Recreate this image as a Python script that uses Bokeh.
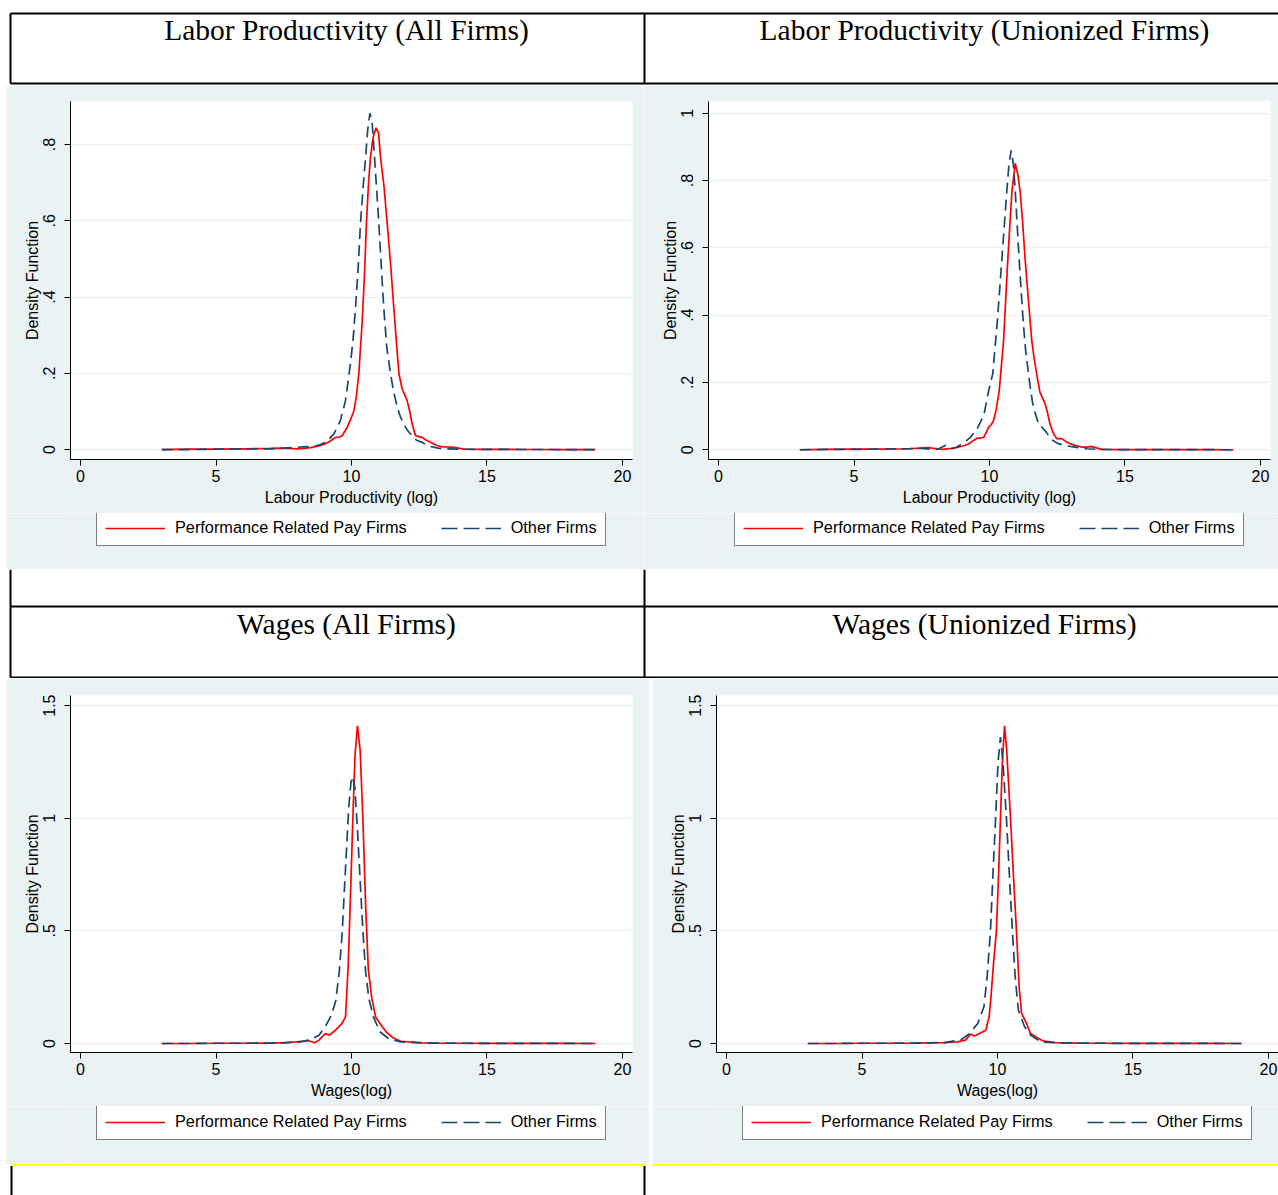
from bokeh.plotting import figure
from bokeh.models import (Range1d, FixedTicker, Legend, LegendItem, Spacer)
from bokeh.layouts import column, row
from bokeh.core.properties import value
from bokeh.embed import file_html
from bokeh.resources import INLINE

# ---------------- data ----------------
titles_top = ["Labor Productivity (All Firms)", "Labor Productivity (Unionized Firms)"]
titles_bottom = ["Wages (All Firms)", "Wages (Unionized Firms)"]
series_names = ["Performance Related Pay Firms", "Other Firms"]
x_ticks = [0, 5, 10, 15, 20]
lp_y_ticks_all = [0, 0.2, 0.4, 0.6, 0.8]
lp_y_ticks_union = [0, 0.2, 0.4, 0.6, 0.8, 1.0]
w_y_ticks = [0, 0.5, 1.0, 1.5]
y_tick_labels = {0: "0", 0.2: ".2", 0.4: ".4", 0.6: ".6", 0.8: ".8", 1.0: "1", 0.5: ".5", 1.5: "1.5"}
lp_xlabel = "Labour Productivity (log)"
w_xlabel = "Wages(log)"
ylabel = "Density Function"

# Labour productivity, all firms
lpa_prp_x = [3, 4, 5, 6, 7, 7.5, 8.0, 8.5, 8.75, 9.0, 9.2, 9.41, 9.55, 9.66, 9.84, 10.0, 10.09, 10.18, 10.27,
             10.39, 10.48, 10.55, 10.63, 10.70, 10.80, 10.91, 11.0, 11.07, 11.2, 11.32, 11.45, 11.56, 11.66,
             11.75, 11.87, 12.05, 12.15, 12.24, 12.36, 12.5, 12.61, 12.75, 12.92, 13.1, 13.28, 13.5, 13.78,
             14.15, 15, 16, 17, 18, 19]
lpa_prp_y = [0.0, 0.001, 0.001, 0.002, 0.003, 0.004, 0.002, 0.005, 0.009, 0.014, 0.022, 0.032, 0.033, 0.037,
             0.058, 0.085, 0.102, 0.140, 0.199, 0.330, 0.46, 0.593, 0.70, 0.767, 0.82, 0.844, 0.83, 0.767,
             0.69, 0.592, 0.48, 0.373, 0.28, 0.199, 0.159, 0.129, 0.10, 0.067, 0.037, 0.034, 0.032, 0.025,
             0.019, 0.012, 0.008, 0.007, 0.006, 0.001, 0.0005, 0.0003, 0.0002, 0.0001, 0.0]
lpa_oth_x = [3, 4, 5, 6, 7, 7.5, 8.0, 8.3, 8.61, 8.8, 8.98, 9.15, 9.35, 9.59, 9.78, 9.96, 10.06, 10.15, 10.24,
             10.33, 10.43, 10.52, 10.60, 10.68, 10.76, 10.85, 10.93, 11.01, 11.10, 11.19, 11.30, 11.44, 11.56,
             11.69, 11.81, 11.93, 12.05, 12.18, 12.30, 12.42, 12.61, 12.75, 12.92, 13.2, 13.53, 14, 15, 16,
             17, 18, 19]
lpa_oth_y = [0.0, 0.0, 0.001, 0.001, 0.002, 0.004, 0.006, 0.008, 0.008, 0.012, 0.017, 0.026, 0.041, 0.076,
             0.129, 0.225, 0.29, 0.373, 0.47, 0.592, 0.69, 0.767, 0.84, 0.882, 0.86, 0.767, 0.68, 0.592,
             0.48, 0.373, 0.27, 0.199, 0.15, 0.111, 0.085, 0.067, 0.052, 0.041, 0.030, 0.024, 0.019, 0.013,
             0.008, 0.004, 0.002, 0.001, 0.0005, 0.0003, 0.0002, 0.0001, 0.0]

# Labour productivity, unionized firms
lpu_prp_x = [3, 4, 5, 6, 7, 7.77, 8.26, 8.6, 8.87, 9.05, 9.24, 9.4, 9.54, 9.66, 9.79, 9.97, 10.07, 10.15,
             10.25, 10.36, 10.44, 10.52, 10.60, 10.68, 10.76, 10.83, 10.95, 11.04, 11.13, 11.22, 11.31,
             11.43, 11.56, 11.65, 11.74, 11.86, 12.05, 12.14, 12.23, 12.35, 12.48, 12.66, 12.91, 13.15,
             13.39, 13.6, 13.76, 14.13, 15, 16, 17, 18, 19]
lpu_prp_y = [0.0, 0.001, 0.002, 0.002, 0.003, 0.006, 0.001, 0.004, 0.008, 0.012, 0.018, 0.027, 0.034, 0.035,
             0.037, 0.067, 0.075, 0.087, 0.12, 0.176, 0.25, 0.324, 0.45, 0.571, 0.68, 0.769, 0.851, 0.82,
             0.769, 0.68, 0.571, 0.45, 0.324, 0.27, 0.226, 0.171, 0.137, 0.11, 0.077, 0.05, 0.033, 0.033,
             0.020, 0.013, 0.008, 0.008, 0.010, 0.001, 0.0005, 0.0003, 0.0002, 0.0001, 0.0]
lpu_oth_x = [3, 4, 5, 6, 7, 7.5, 8.01, 8.2, 8.38, 8.62, 8.8, 8.99, 9.15, 9.30, 9.54, 9.79, 9.97, 10.12,
             10.20, 10.28, 10.37, 10.46, 10.55, 10.64, 10.72, 10.80, 10.88, 10.95, 11.02, 11.09, 11.17,
             11.25, 11.34, 11.44, 11.53, 11.62, 11.81, 12.05, 12.29, 12.54, 12.8, 13.15, 13.6, 14, 15, 16,
             17, 18, 19]
lpu_oth_y = [0.0, 0.001, 0.001, 0.002, 0.003, 0.004, 0.0, 0.006, 0.013, 0.003, 0.008, 0.018, 0.027, 0.037,
             0.062, 0.102, 0.176, 0.226, 0.30, 0.374, 0.47, 0.571, 0.67, 0.769, 0.85, 0.890, 0.85, 0.769,
             0.67, 0.571, 0.47, 0.374, 0.29, 0.226, 0.17, 0.126, 0.077, 0.057, 0.030, 0.018, 0.012, 0.008,
             0.003, 0.001, 0.0005, 0.0003, 0.0002, 0.0001, 0.0]

# Wages, all firms
wa_prp_x = [3, 4, 5, 6, 7, 7.5, 7.95, 8.2, 8.41, 8.64, 8.80, 9.03, 9.19, 9.34, 9.5, 9.65, 9.78, 9.88, 9.96,
            10.05, 10.13, 10.22, 10.32, 10.42, 10.52, 10.62, 10.75, 10.89, 11.05, 11.28, 11.51, 11.82,
            12.13, 12.6, 13, 14, 15, 16, 17, 18, 19]
wa_prp_y = [0.0, 0.0, 0.001, 0.001, 0.002, 0.004, 0.007, 0.009, 0.012, 0.003, 0.015, 0.044, 0.037, 0.052,
            0.07, 0.089, 0.118, 0.35, 0.65, 1.0, 1.28, 1.41, 1.30, 1.0, 0.62, 0.33, 0.2, 0.118, 0.089,
            0.052, 0.027, 0.010, 0.007, 0.003, 0.002, 0.001, 0.0005, 0.0003, 0.0002, 0.0001, 0.0]
wa_oth_x = [3, 4, 5, 6, 7, 7.5, 7.95, 8.3, 8.57, 8.80, 9.03, 9.26, 9.42, 9.55, 9.66, 9.78, 9.90, 9.98,
            10.04, 10.12, 10.22, 10.32, 10.42, 10.52, 10.64, 10.81, 11.05, 11.36, 11.82, 12.6, 13, 14, 15,
            16, 17, 18, 19]
wa_oth_y = [0.0, 0.0, 0.001, 0.001, 0.002, 0.003, 0.005, 0.012, 0.022, 0.037, 0.074, 0.126, 0.19, 0.32,
            0.5, 0.78, 1.05, 1.16, 1.185, 1.14, 0.95, 0.72, 0.5, 0.32, 0.2, 0.118, 0.052, 0.022, 0.007,
            0.003, 0.002, 0.001, 0.0005, 0.0003, 0.0002, 0.0001, 0.0]

# Wages, unionized firms
wu_prp_x = [3, 4, 5, 6, 7, 7.5, 8.0, 8.52, 8.82, 9.0, 9.15, 9.57, 9.69, 9.75, 9.85, 9.96, 10.04, 10.11,
            10.18, 10.26, 10.34, 10.48, 10.60, 10.70, 10.80, 10.89, 11.07, 11.22, 11.45, 11.67, 12.12, 13,
            14, 15, 16, 17, 18, 19]
wu_prp_y = [0.0, 0.0, 0.001, 0.001, 0.002, 0.003, 0.004, 0.007, 0.015, 0.041, 0.033, 0.059, 0.118, 0.192,
            0.35, 0.5, 0.75, 1.0, 1.25, 1.41, 1.3, 1.0, 0.72, 0.5, 0.25, 0.133, 0.089, 0.044, 0.027, 0.012,
            0.004, 0.002, 0.001, 0.0005, 0.0003, 0.0002, 0.0001, 0.0]
wu_oth_x = [3, 4, 5, 6, 7, 7.5, 8.07, 8.4, 8.67, 8.97, 9.27, 9.5, 9.62, 9.74, 9.85, 9.93, 10.02, 10.11,
            10.20, 10.33, 10.45, 10.55, 10.65, 10.77, 11.0, 11.22, 11.6, 12.2, 13, 14, 15, 16, 17, 18, 19]
wu_oth_y = [0.0, 0.0, 0.001, 0.001, 0.002, 0.003, 0.004, 0.012, 0.018, 0.044, 0.089, 0.163, 0.3, 0.5, 0.8,
            1.0, 1.25, 1.36, 1.25, 1.0, 0.72, 0.5, 0.3, 0.148, 0.074, 0.037, 0.007, 0.003, 0.002, 0.001,
            0.0005, 0.0003, 0.0002, 0.0001, 0.0]

# ---------------- styles ----------------
PANEL_BG = "#EAF2F3"
RED = "#FF0000"
NAVY = "#1A476F"
SANS = "Liberation Sans"
SERIF = "Liberation Serif"
TOTAL_W = 1278
LINE_W = 1.7
DASH = "11 6"
KEY_DASH = "16 6"


def panel(width, chart_h, legend_h, top, yticks, yrange, xlabel, prp, oth, right_border):
    p = figure(width=width, height=chart_h, x_range=Range1d(-0.37, 20.37), y_range=Range1d(*yrange),
               output_backend="svg", toolbar_location=None,
               min_border_left=64, min_border_right=right_border, min_border_top=top,
               min_border_bottom=54, background_fill_color="white", border_fill_color=PANEL_BG,
               outline_line_color=None)
    p.line(prp[0], prp[1], line_color=RED, line_width=LINE_W)
    p.line(oth[0], oth[1], line_color=NAVY, line_width=LINE_W, line_dash=DASH)
    for ax in (p.xaxis[0], p.yaxis[0]):
        ax.axis_line_color = "black"
        ax.axis_line_width = 1
        ax.major_tick_line_color = "black"
        ax.major_tick_out = 6
        ax.major_tick_in = 0
        ax.minor_tick_line_color = None
        ax.major_label_text_font = SANS
        ax.major_label_text_font_size = "16px"
        ax.major_label_text_color = "black"
        ax.axis_label_text_font = SANS
        ax.axis_label_text_font_size = "16px"
        ax.axis_label_text_font_style = "normal"
        ax.axis_label_text_color = "black"
        ax.major_label_standoff = 4
        ax.axis_label_standoff = 4
    p.xaxis[0].ticker = FixedTicker(ticks=x_ticks)
    p.xaxis[0].axis_label = xlabel
    p.yaxis[0].ticker = FixedTicker(ticks=yticks)
    p.yaxis[0].major_label_overrides = {t: y_tick_labels[t] for t in yticks}
    p.yaxis[0].major_label_orientation = "vertical"
    p.yaxis[0].major_label_standoff = 9
    p.yaxis[0].axis_label_standoff = 0
    p.yaxis[0].axis_label = ylabel
    p.xgrid.visible = False
    p.ygrid.ticker = FixedTicker(ticks=yticks)
    p.ygrid.grid_line_color = PANEL_BG
    p.ygrid.grid_line_width = 1.5

    # legend strip below the chart, same panel background.  The key renderers reuse the
    # series but this strip's ranges keep them out of view, so only the legend shows.
    lg = figure(width=width, height=legend_h, x_range=Range1d(100, 101), y_range=Range1d(100, 101),
                output_backend="svg", toolbar_location=None, x_axis_type=None, y_axis_type=None,
                min_border=0, min_border_left=0, min_border_right=0, min_border_top=0,
                min_border_bottom=0, outline_line_color=None,
                background_fill_color=PANEL_BG, border_fill_color=PANEL_BG)
    lg.grid.visible = False
    k1 = lg.line(prp[0], prp[1], line_color=RED, line_width=LINE_W)
    k2 = lg.line(oth[0], oth[1], line_color=NAVY, line_width=LINE_W, line_dash=KEY_DASH)
    leg = Legend(items=[LegendItem(label=series_names[0], renderers=[k1]),
                        LegendItem(label=series_names[1], renderers=[k2])],
                 orientation="horizontal", location=(26, 23),
                 border_line_color="black", border_line_width=1,
                 background_fill_color="white", background_fill_alpha=1.0,
                 label_text_font=SANS, label_text_font_size="16.3px", label_text_color="black",
                 glyph_width=60, glyph_height=18, label_height=18, label_standoff=10,
                 spacing=34, padding=8, margin=0)
    lg.add_layout(leg, "center")
    return column(p, lg)


def deco(height, y0):
    p = figure(width=TOTAL_W, height=height, x_range=Range1d(0, TOTAL_W),
               y_range=Range1d(y0 + height, y0), output_backend="svg", toolbar_location=None,
               x_axis_type=None, y_axis_type=None, min_border=0, min_border_left=0,
               min_border_right=0, min_border_top=0, min_border_bottom=0,
               outline_line_color=None, background_fill_color="white", border_fill_color="white")
    p.grid.visible = False
    return p


# Row A: top title row of the table
rowA = deco(85, 0)
rowA.segment(x0=[10, 10, 10, 644], y0=[13, 83, 13, 13], x1=[TOTAL_W, TOTAL_W, 10, 644], y1=[13, 83, 83, 83],
             line_color="black", line_width=2)
rowA.text(x=[346, 984], y=[29, 29], text=titles_top, text_font=value(SERIF), text_font_size="29.5px",
          text_align="center", text_baseline="middle", text_color="black")

# Row B: labour productivity panels (85 -> 569)
tl = panel(638, 428, 56, 16, lp_y_ticks_all, (-0.026, 0.913), lp_xlabel,
           (lpa_prp_x, lpa_prp_y), (lpa_oth_x, lpa_oth_y), 12)
tr = panel(634, 428, 56, 16, lp_y_ticks_union, (-0.029, 1.035), lp_xlabel,
           (lpu_prp_x, lpu_prp_y), (lpu_oth_x, lpu_oth_y), 8)

# Row C/D: gap and wages title row
rowCD = deco(109, 569)
rowCD.segment(x0=[10, 644, 10, 10, 10, 644], y0=[569, 569, 606, 677, 606, 606],
              x1=[10, 644, TOTAL_W, TOTAL_W, 10, 644], y1=[606, 606, 606, 677, 677, 677],
              line_color="black", line_width=2)
rowCD.text(x=[346, 984], y=[623, 623], text=titles_bottom, text_font=value(SERIF), text_font_size="29.5px",
           text_align="center", text_baseline="middle", text_color="black")

# Row E: wage panels (678 -> 1163)
bl = panel(643, 428, 57, 17, w_y_ticks, (-0.040, 1.545), w_xlabel,
           (wa_prp_x, wa_prp_y), (wa_oth_x, wa_oth_y), 17)
br = panel(626, 428, 57, 17, w_y_ticks, (-0.040, 1.545), w_xlabel,
           (wu_prp_x, wu_prp_y), (wu_oth_x, wu_oth_y), 0)

# Row F: bottom strip
rowF = deco(32, 1163)
rowF.segment(x0=[11, 652], y0=[1164, 1164], x1=[645, TOTAL_W], y1=[1164, 1164],
             line_color="#FFFF00", line_width=2.5)
rowF.segment(x0=[11, 644], y0=[1165.5, 1165.5], x1=[11, 644], y1=[1195, 1195],
             line_color="black", line_width=2)

layout = column(rowA,
                row(Spacer(width=6, height=484), tl, tr),
                rowCD,
                row(Spacer(width=6, height=485), bl, Spacer(width=3, height=485), br),
                rowF)

open("out.html", "w").write(file_html(layout, INLINE))
